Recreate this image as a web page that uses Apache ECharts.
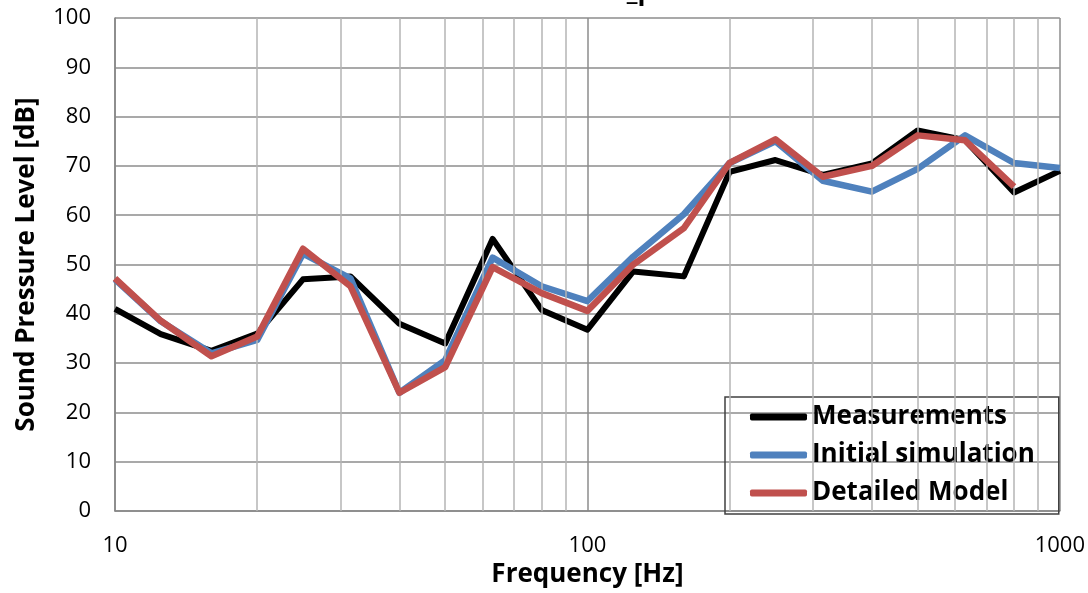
<!DOCTYPE html>
<html>
<head>
<meta charset="utf-8">
<script src="https://cdn.jsdelivr.net/npm/echarts@6/dist/echarts.min.js"></script>
<style>
html,body{margin:0;padding:0;background:#fff;}
#c{width:1088px;height:593px;}
</style>
</head>
<body>
<div id="c"></div>
<script>
var frequencies = [10, 12.5, 16, 20, 25, 31.5, 40, 50, 63, 80, 100, 125, 160, 200, 250, 315, 400, 500, 630, 800, 1000];
var measurements = [41.0, 35.9, 32.5, 36.0, 47.0, 47.6, 38.0, 34.0, 55.2, 40.8, 36.8, 48.6, 47.6, 68.8, 71.2, 68.2, 70.5, 77.2, 75.2, 64.6, 69.0];
var initialSimulation = [47.0, 38.5, 32.0, 34.7, 52.2, 47.2, 24.0, 30.6, 51.4, 45.6, 42.6, 51.6, 60.2, 70.6, 75.0, 67.0, 64.8, 69.4, 76.2, 70.6, 69.6];
var detailedModel = [47.2, 38.6, 31.4, 35.4, 53.2, 45.6, 24.0, 29.2, 49.5, 44.2, 40.6, 50.0, 57.4, 70.6, 75.4, 67.8, 70.0, 76.2, 75.2, 65.8, null];
var minorGridFreqs = [20, 30, 40, 50, 60, 70, 80, 90, 200, 300, 400, 500, 600, 700, 800, 900];
var seriesNames = ['Measurements', 'Initial simulation', 'Detailed Model'];
var titleText = 'L_p';

function pairs(vals) {
  return frequencies.map(function (f, i) { return [f, vals[i]]; });
}

var FONT = 'Open Sans';
var chart = echarts.init(document.getElementById('c'), null, {renderer: 'canvas'});
chart.setOption({
  animation: false,
  backgroundColor: '#fff',
  graphic: [{
    type: 'text',
    x: 612, y: -7,
    style: {text: titleText, font: 'bold 26px "Open Sans"', fill: '#000', verticalAlign: 'middle'}
  }],
  grid: {left: 115, right: 28, top: 18, bottom: 78, containLabel: false},
  legend: {
    orient: 'vertical',
    left: 725, top: 397,
    padding: [7, 24, 8, 25],
    itemGap: 12,
    itemWidth: 57, itemHeight: 7,
    icon: 'roundRect',
    borderColor: '#404040', borderWidth: 1.5,
    data: seriesNames,
    textStyle: {fontFamily: FONT, fontWeight: 'bold', fontSize: 26, color: '#000'}
  },
  xAxis: {
    type: 'log', logBase: 10, min: 10, max: 1000,
    name: 'Frequency [Hz]', nameLocation: 'middle', nameGap: 45,
    nameTextStyle: {fontFamily: FONT, fontWeight: 'bold', fontSize: 26, color: '#000'},
    axisLine: {show: true, lineStyle: {color: '#868686', width: 1.5}},
    axisTick: {show: false},
    axisLabel: {fontFamily: FONT, fontSize: 22, color: '#000', margin: 24,
      formatter: function (v) { return String(Math.round(v)); }},
    splitLine: {show: true, lineStyle: {color: '#8C8C8C', width: 1.5}},
    minorTick: {show: false}, minorSplitLine: {show: false}
  },
  yAxis: {
    type: 'value', min: 0, max: 100, interval: 10,
    name: 'Sound Pressure Level [dB]', nameLocation: 'middle', nameGap: 75,
    nameTextStyle: {fontFamily: FONT, fontWeight: 'bold', fontSize: 26, color: '#000'},
    axisLine: {show: true, lineStyle: {color: '#868686', width: 1.5}},
    axisTick: {show: false},
    axisLabel: {fontFamily: FONT, fontSize: 22, color: '#000', margin: 24},
    splitLine: {show: true, lineStyle: {color: '#8C8C8C', width: 1.5}}
  },
  series: [
    {
      name: '_grid', type: 'line', data: [], z: 1, silent: true,
      markLine: {
        silent: true, symbol: ['none', 'none'], animation: false,
        label: {show: false},
        lineStyle: {color: '#B4B4B4', width: 1.5, type: 'solid'},
        emphasis: {disabled: true},
        data: minorGridFreqs.map(function (f) { return {xAxis: f}; })
      }
    },
    {
      name: seriesNames[0], type: 'line', data: pairs(measurements), z: 3,
      symbol: 'none', color: '#000000',
      lineStyle: {color: '#000000', width: 6, join: 'round'}
    },
    {
      name: seriesNames[1], type: 'line', data: pairs(initialSimulation), z: 4,
      symbol: 'none', color: '#4F81BD',
      lineStyle: {color: '#4F81BD', width: 6.5, join: 'round'}
    },
    {
      name: seriesNames[2], type: 'line', data: pairs(detailedModel), z: 5,
      symbol: 'none', color: '#C0504D',
      lineStyle: {color: '#C0504D', width: 6.5, join: 'round'}
    }
  ]
});
</script>
</body>
</html>
